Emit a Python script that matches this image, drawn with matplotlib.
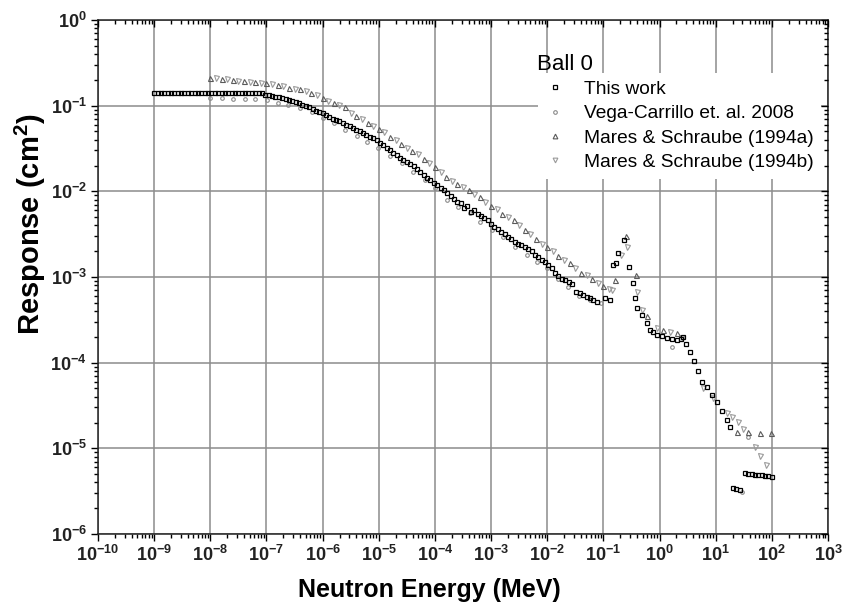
import numpy as np
import matplotlib
matplotlib.use("Agg")
import matplotlib.pyplot as plt
from matplotlib.ticker import FixedLocator, FuncFormatter, NullFormatter
from matplotlib.lines import Line2D

plt.rcParams['font.family'] = ['Liberation Sans', 'DejaVu Sans']
plt.rcParams['mathtext.fontset'] = 'custom'
plt.rcParams['mathtext.rm'] = 'Liberation Sans'
plt.rcParams['mathtext.bf'] = 'Liberation Sans:bold'
plt.rcParams['mathtext.it'] = 'Liberation Sans:italic'

# ---- data (log10 of energy in MeV, log10 of response in cm^2) ----
this_log_e = [
    -9.00, -8.94, -8.88, -8.82, -8.76, -8.70, -8.64, -8.58, -8.52, -8.46,
    -8.40, -8.34, -8.28, -8.22, -8.16, -8.10, -8.04, -7.98, -7.92, -7.86,
    -7.80, -7.74, -7.68, -7.62, -7.56, -7.50, -7.44, -7.38, -7.32, -7.26,
    -7.20, -7.14, -7.08, -7.02, -6.96, -6.90, -6.84, -6.78, -6.72, -6.66,
    -6.60, -6.54, -6.48, -6.42, -6.36, -6.30, -6.24, -6.18, -6.12, -6.06,
    -6.00, -5.94, -5.88, -5.82, -5.76, -5.70, -5.64, -5.58, -5.52, -5.46,
    -5.40, -5.34, -5.28, -5.22, -5.16, -5.10, -5.04, -4.98, -4.92, -4.86,
    -4.80, -4.74, -4.68, -4.62, -4.56, -4.50, -4.44, -4.38, -4.32, -4.26,
    -4.20, -4.14, -4.08, -4.02, -3.96, -3.90, -3.84, -3.78, -3.72, -3.66,
    -3.60, -3.54, -3.48, -3.42, -3.36, -3.30, -3.24, -3.18, -3.12, -3.06,
    -3.00, -2.94, -2.88, -2.82, -2.76, -2.70, -2.64, -2.58, -2.52, -2.46,
    -2.40, -2.34, -2.28, -2.22, -2.16, -2.10, -2.04, -1.98, -1.92, -1.86,
    -1.80, -1.74, -1.68, -1.62, -1.56, -1.48, -1.42, -1.36, -1.30, -1.24,
    -1.18, -1.11, -0.97, -0.88, -0.83, -0.78, -0.74, -0.63, -0.54, -0.47,
    -0.44, -0.40, -0.31, -0.22, -0.17, -0.12, -0.04, 0.04, 0.13, 0.22,
    0.31, 0.38, 0.42, 0.48, 0.55, 0.62, 0.69, 0.76, 0.85, 0.93,
    1.02, 1.11, 1.20, 1.26, 1.30, 1.36, 1.44, 1.52, 1.58, 1.64,
    1.70, 1.76, 1.82, 1.88, 1.94, 2.00,
]
this_log_r = [
    -0.85, -0.85, -0.85, -0.85, -0.85, -0.85, -0.85, -0.85, -0.85, -0.85,
    -0.85, -0.85, -0.85, -0.85, -0.85, -0.85, -0.85, -0.85, -0.85, -0.85,
    -0.85, -0.85, -0.85, -0.85, -0.85, -0.85, -0.85, -0.85, -0.85, -0.85,
    -0.85, -0.85, -0.85, -0.87, -0.88, -0.89, -0.90, -0.90, -0.91, -0.92,
    -0.93, -0.94, -0.96, -0.97, -0.99, -1.00, -1.02, -1.04, -1.06, -1.07,
    -1.09, -1.11, -1.13, -1.15, -1.17, -1.18, -1.20, -1.22, -1.24, -1.26,
    -1.28, -1.30, -1.32, -1.34, -1.36, -1.38, -1.40, -1.43, -1.46, -1.49,
    -1.52, -1.55, -1.58, -1.61, -1.63, -1.66, -1.68, -1.71, -1.74, -1.77,
    -1.81, -1.84, -1.87, -1.90, -1.93, -1.96, -1.99, -2.02, -2.05, -2.09,
    -2.12, -2.14, -2.20, -2.17, -2.24, -2.22, -2.27, -2.29, -2.31, -2.34,
    -2.38, -2.42, -2.44, -2.47, -2.50, -2.53, -2.56, -2.59, -2.61, -2.63,
    -2.65, -2.67, -2.70, -2.74, -2.77, -2.80, -2.83, -2.86, -2.90, -2.95,
    -2.99, -3.02, -3.04, -3.06, -3.08, -3.17, -3.19, -3.21, -3.23, -3.25,
    -3.27, -3.29, -3.24, -3.27, -2.86, -2.84, -2.72, -2.57, -2.88, -3.07,
    -3.24, -3.36, -3.44, -3.54, -3.62, -3.64, -3.68, -3.69, -3.71, -3.72,
    -3.73, -3.72, -3.70, -3.78, -3.87, -3.98, -4.10, -4.22, -4.28, -4.38,
    -4.46, -4.57, -4.67, -4.75, -5.46, -5.47, -5.49, -5.29, -5.30, -5.30,
    -5.31, -5.31, -5.31, -5.32, -5.32, -5.33,
]

vega_log_e = [
    -8.00, -7.79, -7.60, -7.38, -7.20, -6.99, -6.79, -6.62, -6.40, -6.19,
    -5.99, -5.80, -5.60, -5.39, -5.21, -5.01, -4.80, -4.59, -4.39, -4.18,
    -4.00, -3.78, -3.59, -3.37, -3.20, -2.98, -2.79, -2.57, -2.36, -2.18,
    -2.00, -1.80, -1.63, -1.44, -1.24, -1.05, 0.22, 1.47, 1.58,
]
vega_log_r = [
    -0.91, -0.91, -0.92, -0.92, -0.92, -0.93, -0.97, -0.99, -1.03, -1.07,
    -1.14, -1.20, -1.28, -1.35, -1.42, -1.49, -1.59, -1.67, -1.77, -1.87,
    -1.96, -2.10, -2.18, -2.25, -2.36, -2.45, -2.53, -2.65, -2.74, -2.82,
    -2.89, -3.02, -3.12, -3.22, -3.27, -3.30, -3.82, -5.51, -4.87,
]

mares_a_log_e = [
    -8.0, -7.8, -7.6, -7.4, -7.2, -7.0, -6.8, -6.6, -6.4, -6.2,
    -6.0, -5.8, -5.6, -5.4, -5.2, -5.0, -4.8, -4.6, -4.4, -4.2,
    -4.0, -3.8, -3.6, -3.4, -3.2, -3.0, -2.8, -2.6, -2.4, -2.2,
    -2.0, -1.8, -1.6, -1.4, -1.2, -1.0, -0.79, -0.60, -0.42, -0.22,
    0.06, 0.31, 1.38, 1.58, 1.79, 1.99,
]
mares_a_log_r = [
    -0.68, -0.69, -0.70, -0.71, -0.72, -0.73, -0.76, -0.79, -0.81, -0.85,
    -0.91, -0.97, -1.02, -1.12, -1.20, -1.27, -1.36, -1.45, -1.53, -1.62,
    -1.72, -1.83, -1.92, -1.99, -2.07, -2.17, -2.26, -2.34, -2.45, -2.56,
    -2.65, -2.75, -2.84, -2.95, -3.02, -3.11, -3.03, -2.52, -2.98, -3.46,
    -3.62, -3.65, -4.81, -4.81, -4.82, -4.82,
]

mares_b_log_e = [
    -7.9, -7.7, -7.5, -7.3, -7.1, -6.9, -6.7, -6.5, -6.3, -6.1,
    -5.9, -5.7, -5.5, -5.3, -5.1, -4.9, -4.7, -4.5, -4.3, -4.1,
    -3.9, -3.7, -3.5, -3.3, -3.1, -2.9, -2.7, -2.5, -2.3, -2.1,
    -1.9, -1.7, -1.5, -1.3, -1.1, -0.9, -0.85, -0.69, -0.58, -0.40,
    -0.31, -0.04, 0.19, 0.40, 0.78, 0.95, 1.20, 1.29, 1.40, 1.49,
    1.70, 1.79, 1.90,
]
mares_b_log_r = [
    -0.68, -0.69, -0.71, -0.72, -0.73, -0.75, -0.77, -0.80, -0.83, -0.88,
    -0.94, -0.99, -1.08, -1.16, -1.24, -1.31, -1.40, -1.49, -1.56, -1.67,
    -1.78, -1.88, -1.95, -2.03, -2.12, -2.21, -2.30, -2.39, -2.50, -2.61,
    -2.70, -2.80, -2.90, -2.98, -3.07, -3.14, -3.15, -2.74, -2.65, -3.17,
    -3.38, -3.59, -3.64, -3.71, -4.29, -4.41, -4.59, -4.64, -4.69, -4.77,
    -4.98, -5.09, -5.19,
]

labels = ["This work", "Vega-Carrillo et. al. 2008",
          "Mares & Schraube (1994a)", "Mares & Schraube (1994b)"]
legend_title = "Ball 0"
x_label = "Neutron Energy (MeV)"
y_label = r"Response (cm$^{\mathbf{2}}$)"
x_decades = list(range(-10, 4))   # 1e-10 ... 1e3
y_decades = list(range(-6, 1))    # 1e-6 ... 1e0

# ---- figure ----
W, H = 842, 613
fig = plt.figure(figsize=(W / 100, H / 100), dpi=100)
rect = [98 / W, 1 - 534 / H, 730 / W, 514 / H]
ax = fig.add_axes(rect)

def p(le):
    return 10.0 ** np.asarray(le, dtype=float)

ax.plot(p(vega_log_e), p(vega_log_r), linestyle='none', marker='o', ms=2.6,
        mfc='none', mec='#8a8a8a', mew=0.8, zorder=3)
ax.plot(p(mares_b_log_e), p(mares_b_log_r), linestyle='none', marker='v', ms=3.6,
        mfc='none', mec='#9a9a9a', mew=0.8, zorder=3)
ax.plot(p(mares_a_log_e), p(mares_a_log_r), linestyle='none', marker='^', ms=3.6,
        mfc='none', mec='#5a5a5a', mew=0.8, zorder=3)
ax.plot(p(this_log_e), p(this_log_r), linestyle='none', marker='s', ms=3.2,
        mfc='none', mec='black', mew=0.9, zorder=4)

ax.set_xscale('log')
ax.set_yscale('log')
ax.set_xlim(10.0 ** x_decades[0], 10.0 ** x_decades[-1])
ax.set_ylim(10.0 ** y_decades[0], 10.0 ** y_decades[-1])

x_major = [10.0 ** d for d in x_decades]
y_major = [10.0 ** d for d in y_decades]
x_minor = [m * 10.0 ** d for d in x_decades[:-1] for m in range(2, 10)]
y_minor = [m * 10.0 ** d for d in y_decades[:-1] for m in range(2, 10)]
ax.xaxis.set_major_locator(FixedLocator(x_major))
ax.yaxis.set_major_locator(FixedLocator(y_major))
ax.xaxis.set_minor_locator(FixedLocator(x_minor))
ax.yaxis.set_minor_locator(FixedLocator(y_minor))
fmt = FuncFormatter(lambda v, pos: r'$\mathbf{10^{%d}}$' % int(round(np.log10(v))))
ax.xaxis.set_major_formatter(fmt)
ax.yaxis.set_major_formatter(fmt)
ax.xaxis.set_minor_formatter(NullFormatter())
ax.yaxis.set_minor_formatter(NullFormatter())

ax.tick_params(which='both', direction='out', top=False, right=False, colors='black',
               labelsize=13, width=1.0, labelcolor='#222222')
ax.tick_params(which='major', length=5)
ax.tick_params(which='minor', length=3)
ax.tick_params(axis='x', pad=3)
ax.tick_params(axis='y', pad=3)

ax.grid(True, which='major', color='#8c8c8c', linewidth=1.1)
ax.set_axisbelow(True)
for s in ax.spines.values():
    s.set_linewidth(1.1)
    s.set_color('#222222')

# overlay axes giving inward ticks on the top and right edges
ax2 = fig.add_axes(rect, sharex=ax, sharey=ax, frameon=False)
ax2.patch.set_visible(False)
ax2.tick_params(which='both', direction='in', left=False, bottom=False, top=True,
                right=True, labelleft=False, labelbottom=False, labeltop=False,
                labelright=False, width=1.0)
ax2.tick_params(which='major', length=5)
ax2.tick_params(which='minor', length=3)
ax2.grid(False)

# axis titles (positioned as in the reference, off-centre)
fig.text(429 / W, 1 - 590 / H, x_label, fontsize=18, fontweight='bold',
         ha='center', va='center')
fig.text(30 / W, 1 - 224 / H, y_label, fontsize=21, fontweight='bold',
         ha='center', va='center', rotation=90)

handles = [
    Line2D([], [], linestyle='none', marker='s', ms=3.0, mfc='none', mec='black', mew=0.9),
    Line2D([], [], linestyle='none', marker='o', ms=2.6, mfc='none', mec='#8a8a8a', mew=0.8),
    Line2D([], [], linestyle='none', marker='^', ms=3.4, mfc='none', mec='#5a5a5a', mew=0.8),
    Line2D([], [], linestyle='none', marker='v', ms=3.4, mfc='none', mec='#9a9a9a', mew=0.8),
]
leg = ax.legend(handles, labels, loc='upper left',
                bbox_to_anchor=((538 - 98) / 730, (534 - 73) / 514), fontsize=13.8,
                frameon=True, facecolor='white', edgecolor='none', framealpha=1.0,
                handlelength=1.0, handletextpad=1.0, labelspacing=0.36,
                borderpad=0.4, borderaxespad=0.0, fancybox=False)
fig.text(537 / W, 1 - 65 / H, legend_title, fontsize=16, ha='left', va='center')

fig.savefig('out.png', dpi=100, facecolor='white')
